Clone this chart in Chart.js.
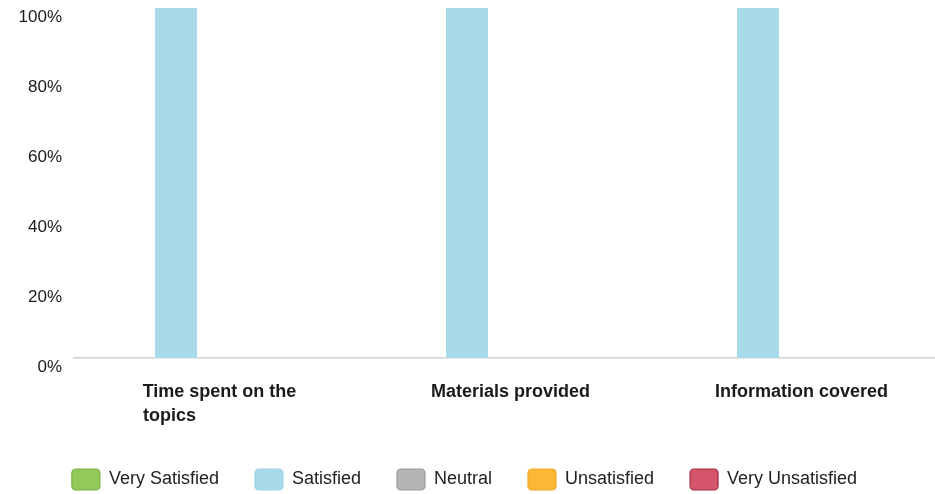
<!DOCTYPE html>
<html>
<head>
<meta charset="utf-8">
<title>Satisfaction survey</title>
<script src="https://cdn.jsdelivr.net/npm/chart.js@4"></script>
<style>
  html, body { margin: 0; padding: 0; background: #fff; overflow: hidden; }
  body { width: 935px; height: 494px; position: relative; }
  #wrap { position: absolute; left: -18px; top: 0; width: 965px; height: 500px; }
</style>
</head>
<body>
<div id="wrap"><canvas id="chart"></canvas></div>
<script>
// Survey categories (first one wraps onto two lines)
const categories = [["Time spent on the", "topics"], "Materials provided", "Information covered"];

// Share of responses per rating, in percent
const verySatisfied   = [0, 0, 0];
const satisfied       = [100, 100, 100];
const neutral         = [0, 0, 0];
const unsatisfied     = [0, 0, 0];
const veryUnsatisfied = [0, 0, 0];

// Y axis tick values
const yTickValues = [0, 20, 40, 60, 80, 100];

const FONT = '"Liberation Sans", Arial, Helvetica, sans-serif';

// Pad shorter lines so a multi-line label reads left-aligned
const measureCtx = document.createElement('canvas').getContext('2d');
measureCtx.font = 'bold 18px ' + FONT;
function leftAlignLines(lines) {
  const w = Math.max(...lines.map(l => measureCtx.measureText(l).width));
  return lines.map(l => {
    let s = l;
    while (measureCtx.measureText(s + ' ').width <= w + 1) s += ' ';
    return s;
  });
}

const series = [
  { label: 'Very Satisfied',   data: verySatisfied,   fill: '#93c95b', edge: '#78b043' },
  { label: 'Satisfied',        data: satisfied,       fill: '#a8dbe9', edge: '#9dd3e3' },
  { label: 'Neutral',          data: neutral,         fill: '#b5b5b5', edge: '#9a9a9a' },
  { label: 'Unsatisfied',      data: unsatisfied,     fill: '#fbb735', edge: '#f4a928' },
  { label: 'Very Unsatisfied', data: veryUnsatisfied, fill: '#d5566a', edge: '#a82a40' }
];

new Chart(document.getElementById('chart'), {
  type: 'bar',
  data: {
    labels: categories,
    datasets: series.map(s => ({
      label: s.label,
      data: s.data,
      backgroundColor: s.fill,
      borderColor: s.edge,
      borderWidth: 0,
      categoryPercentage: 0.747,
      barPercentage: 0.966
    }))
  },
  options: {
    responsive: true,
    maintainAspectRatio: false,
    animation: false,
    layout: { padding: { top: 8, left: 0, right: 0, bottom: 0 } },
    plugins: {
      tooltip: { enabled: false },
      legend: {
        position: 'bottom',
        labels: {
          font: { family: FONT, size: 18 },
          color: '#222',
          boxWidth: 28,
          boxHeight: 21,
          padding: 36,
          useBorderRadius: true,
          borderRadius: 4,
          generateLabels(chart) {
            const items = Chart.defaults.plugins.legend.labels.generateLabels(chart);
            items.forEach((it, i) => {
              it.fillStyle = series[i].fill;
              it.strokeStyle = series[i].edge;
              it.lineWidth = 1.2;
            });
            return items;
          }
        }
      }
    },
    scales: {
      x: {
        offset: true,
        grid: { display: false },
        border: { display: true, color: '#d2d2d2', width: 1.5 },
        afterFit(scale) {
          scale.height = 75;
        },
        ticks: {
          padding: 14,
          color: '#1a1a1a',
          maxRotation: 0,
          autoSkip: false,
          font: { family: FONT, size: 18, weight: 'bold', lineHeight: 1.33 },
          callback(value, index) {
            const lab = categories[index];
            return Array.isArray(lab) ? leftAlignLines(lab) : lab;
          }
        }
      },
      y: {
        min: 0,
        max: 100,
        grid: { display: false, drawTicks: false },
        border: { display: false },
        afterBuildTicks(scale) {
          scale.ticks = yTickValues.map(v => ({ value: v }));
        },
        afterFit(scale) {
          scale.width = 92;
          scale.paddingTop = 0;
          scale.paddingBottom = 0;
        },
        ticks: {
          padding: 12,
          labelOffset: 9,
          color: '#1a1a1a',
          font: { family: FONT, size: 17 },
          callback: v => v + '%'
        }
      }
    }
  }
});
</script>
</body>
</html>
